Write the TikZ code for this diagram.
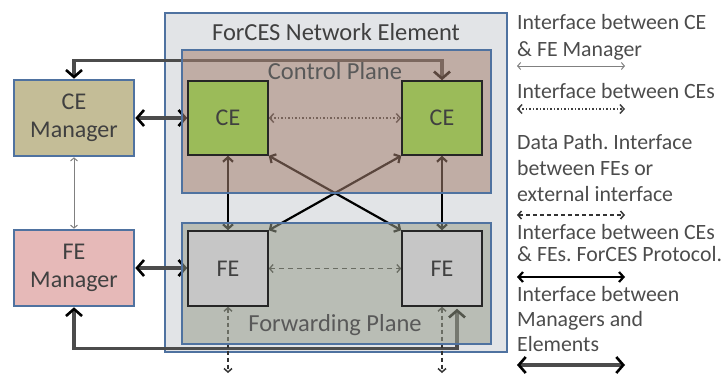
\documentclass[tikz,border=0pt]{standalone}
\usepackage{fontspec}
\setmainfont{Carlito}
\usepackage{xcolor}
\usepackage{tikz}
\usetikzlibrary{arrows.meta,calc}
\frenchspacing

\definecolor{neblue}{RGB}{79,114,160}
\definecolor{negray}{RGB}{226,228,231}
\definecolor{cpfill}{RGB}{165,128,112}
\definecolor{fpfill}{RGB}{152,157,140}
\definecolor{cegreen}{RGB}{155,187,89}
\definecolor{fegray}{RGB}{198,198,198}
\definecolor{cemtan}{RGB}{196,189,151}
\definecolor{fempink}{RGB}{230,185,184}
\definecolor{txtgray}{RGB}{64,64,64}

\pgfdeclarelayer{tint}
\pgfdeclarelayer{front}
\pgfsetlayers{main,tint,front}

\begin{document}
\begin{tikzpicture}[x=1pt,y=-1pt,
	box/.style={draw=neblue,line width=2.6pt},
	elem/.style={draw=black!85,line width=1.5pt,minimum width=80pt,minimum height=75pt,
		font=\fontsize{24}{28}\selectfont,text=txtgray},
	mgr/.style={box,minimum width=120pt,minimum height=76pt,align=center,
		font=\fontsize{24}{28}\selectfont,text=txtgray},
	title/.style={font=\fontsize{24.5}{28}\selectfont,text=txtgray,inner sep=0pt},
	legtxt/.style={anchor=north west,align=left,inner sep=0pt,text=black!70},
	mgrlink/.style={line width=3.5pt,draw=black!70,
		{Straight Barb[black,length=7pt,width=16pt,line width=2.6pt]}-{Straight Barb[black,length=7pt,width=16pt,line width=2.6pt]}},
	protolink/.style={line width=2.2pt,draw=black,
		{Straight Barb[length=4.5pt,width=10pt]}-{Straight Barb[length=4.5pt,width=10pt]}},
	cclink/.style={line width=1.5pt,draw=black!75,dotted,
		{Straight Barb[length=4pt,width=9pt]}-{Straight Barb[length=4pt,width=9pt]}},
	datalink/.style={line width=1.5pt,draw=black!80,dash pattern=on 4pt off 3pt,
		{Straight Barb[length=3.5pt,width=8pt]}-{Straight Barb[length=3.5pt,width=8pt]}},
	mmlink/.style={line width=1pt,draw=black!50,
		{Straight Barb[length=3pt,width=7pt]}-{Straight Barb[length=3pt,width=7pt]}}]
\useasboundingbox (0,0) rectangle (725,376);

\draw[box,fill=negray] (165,13) rectangle (507,352);
\node[title] (netitle) at (336,32) {ForCES Network Element};

\node[mgr,fill=cemtan] (cem) at (74,118) {CE\\Manager};
\node[mgr,fill=fempink] (fem) at (74,268) {FE\\Manager};

\begin{pgfonlayer}{tint}
\draw[box,fill=cpfill,fill opacity=0.55] (182,50) rectangle (491,193);
\node[title,text=black!65] (cptitle) at (335,71) {Control Plane};
\draw[box,fill=fpfill,fill opacity=0.55] (182,223) rectangle (491,344);
\node[title,text=black!65] (fptitle) at (335,325) {Forwarding Plane};
\end{pgfonlayer}

\begin{pgfonlayer}{front}
\node[elem,fill=cegreen,minimum height=74pt] (ce1) at (228,118) {CE};
\node[elem,fill=cegreen,minimum height=74pt] (ce2) at (442,118) {CE};
\node[elem,fill=fegray] (fe1) at (228,268.5) {FE};
\node[elem,fill=fegray] (fe2) at (442,268.5) {FE};
\end{pgfonlayer}

\coordinate (ext1) at (228,373);
\coordinate (ext2) at (442,373);

\draw[mmlink] (cem) -- (fem);
\draw[mgrlink] (cem) -- (ce1);
\draw[mgrlink] (fem.east) -- (fem.east -| fe1.west);
\draw[mgrlink] (cem.north) -- ++(0,-18) -| (ce2.north);
\draw[mgrlink] (fem.south) -- ++(0,41) -| ($(fe2.south)+(15,2)$);
\draw[cclink] (ce1) -- (ce2);
\draw[datalink,dash pattern=on 5pt off 4pt,line width=1.3pt] (fe1) -- (fe2);
\draw[protolink] (ce1) -- (fe1);
\draw[protolink] (ce2) -- (fe2);
\draw[protolink] (ce1.south east) -- (fe2.north west);
\draw[protolink] (ce2.south west) -- (fe1.north east);
\draw[datalink] (fe1) -- (ext1);
\draw[datalink] (fe2) -- (ext2);

\begin{scope}[font=\fontsize{21.8}{27}\selectfont]
\node[legtxt] (leg1) at (517,14) {Interface between CE\\\& FE Manager};
\node[legtxt] (leg2) at (517,83) {Interface between CEs};
\node[legtxt,font=\fontsize{21.8}{26}\selectfont] (leg3) at (517,134) {Data Path. Interface\\between FEs or\\external interface};
\node[legtxt,font=\fontsize{21.8}{22}\selectfont] (leg4) at (517,224) {Interface between CEs\\\& FEs. ForCES Protocol.};
\node[legtxt,font=\fontsize{21.8}{25}\selectfont] (leg5) at (517,286) {Interface between\\Managers and\\Elements};
\end{scope}
\foreach \y/\s in {66/mmlink,109/cclink,215/datalink,277/protolink,365/mgrlink}
	\draw[\s] (517,\y) -- (625,\y);
\end{tikzpicture}
\end{document}
